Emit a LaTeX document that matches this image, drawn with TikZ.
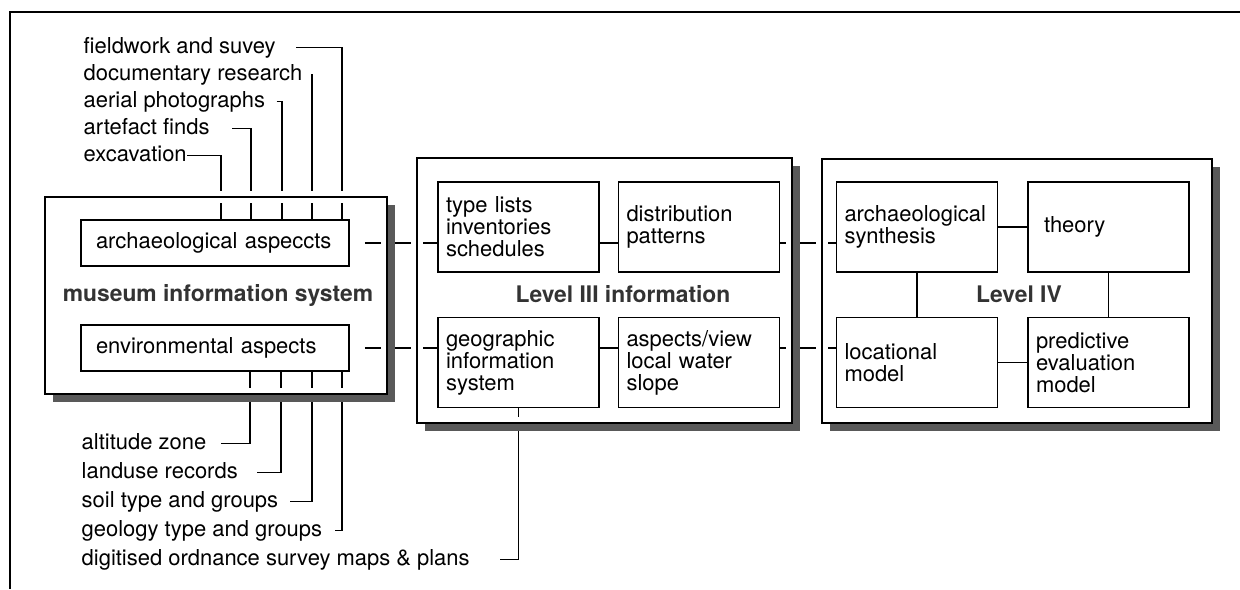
\documentclass[tikz,border=0pt]{standalone}
\usepackage{fontspec}
\setmainfont{TeX Gyre Heros}
\usepackage{tikz}

\begin{document}
\begin{tikzpicture}[x=0.02cm, y=-0.02cm, line width=0.8pt,
    font=\fontsize{12.5}{12.5}\selectfont,
    lab/.style={anchor=base west, inner sep=0pt, text height=9pt, text depth=2.5pt},
    mbox/.style={draw, line width=0.9pt, minimum height=0.92cm, text width=4.76cm, inner xsep=0.3cm, align=left},
    box/.style={draw, line width=0.9pt, minimum height=1.8cm, text width=2.9cm, inner xsep=0.16cm, align=left},
    title/.style={font=\fontsize{13}{13}\selectfont\bfseries, text=black!80},
    panel/.style={inner sep=0pt, outer sep=0pt},
    halo/.style={draw=white, line width=0.24cm},
    shadowfill/.style={fill=black!65}]
    \useasboundingbox (0,0) rectangle (1240,589);
    \draw (1240,12) -- (10,12) -- (10,589);

    \node[lab] (fld) at (83,53) {fieldwork and suvey};
    \node[lab] (doc) at (83,80) {documentary research};
    \node[lab] (aer) at (83,107) {aerial photographs};
    \node[lab] (art) at (83,134) {artefact finds};
    \node[lab] (exc) at (83,161) {excavation};

    \node[lab] (alt) at (81,449) {altitude zone};
    \node[lab] (land) at (81,478) {landuse records};
    \node[lab] (soil) at (81,507) {soil type and groups};
    \node[lab] (geo) at (81,536) {geology type and groups};
    \node[lab] (dig) at (81,565) {digitised ordnance survey maps \& plans};

    \node[mbox] (arch) at (215,243) {archaeological~aspeccts};
    \node[mbox] (env) at (215,348) {environmental aspects};
    \node[title] (mustitle) at (218,295) {museum information system};

    \node[box] (types) at (518.5,227) {type lists\\inventories\\schedules};
    \node[box] (distrib) at (699,227) {distribution\\patterns};
    \node[box] (gis) at (518.5,362.5) {geographic\\information\\system};
    \node[box] (aspects) at (699,362.5) {aspects/view\\local water\\slope};
    \node[title] (lthreetitle) at (623,294.5) {Level III information};

    \node[box] (synth) at (917,227) {archaeological\\synthesis};
    \node[box] (theory) at (1108.5,227) {\hspace*{0.16cm}theory};
    \node[box] (locat) at (917,362.5) {locational\\model};
    \node[box] (predict) at (1108.5,362.5) {predictive\\evaluation\\model};
    \node[title] (lfourtitle) at (1019,294.5) {Level IV};

    \foreach \lab/\x/\gap in {exc/221/0, art/251/0.44, aer/282/0.22, fld/342/0.4}
        \draw ([xshift=\gap cm]\lab.east) -| (\x,0 |- arch.north);
    \draw (doc.east -| 312,0) -- (312,0 |- arch.north);

    \foreach \lab/\x/\gap in {alt/250/0.28, land/281/0.38, soil/312/0.22, geo/342/0.24}
        \draw (\x,0 |- env.south) |- ([xshift=\gap cm]\lab.east);
    \draw (gis.south) |- ([xshift=0.6cm]dig.east);

    \draw[shorten <=0.3cm] (arch.east) -- (arch.east -| types.west);
    \draw (types.east |- arch.east) -- (distrib.west |- arch.east);
    \draw (distrib.east |- arch.east) -- (synth.west |- arch.east);
    \draw[shorten <=0.3cm] (env.east) -- (env.east -| gis.west);
    \draw (gis.east |- env.east) -- (aspects.west |- env.east);
    \draw (aspects.east |- env.east) -- (locat.west |- env.east);

    \draw (synth) -- (theory);
    \draw (synth) -- (locat);
    \draw (theory) -- (predict);
    \draw (locat) -- (predict);

    \node[panel, minimum width=6.84cm, minimum height=3.94cm] (mus) at (216,295.5) {};
    \node[panel, minimum width=7.5cm, minimum height=5.3cm] (lthree) at (604.5,290.5) {};
    \node[panel, minimum width=7.8cm, minimum height=5.28cm] (lfour) at (1017,291) {};
    \foreach \c in {mus, lthree, lfour} {
        \draw[halo] (\c.north west) rectangle (\c.south east);
        \fill[shadowfill] ([shift={(0,8)}]\c.north east) -- ([shift={(8,8)}]\c.north east)
            -- ([shift={(8,8)}]\c.south east) -- ([shift={(8,8)}]\c.south west)
            -- ([shift={(8,0)}]\c.south west) -- (\c.south east) -- cycle;
        \draw[line width=0.9pt] (\c.north west) rectangle (\c.south east);
    }
\end{tikzpicture}
\end{document}
